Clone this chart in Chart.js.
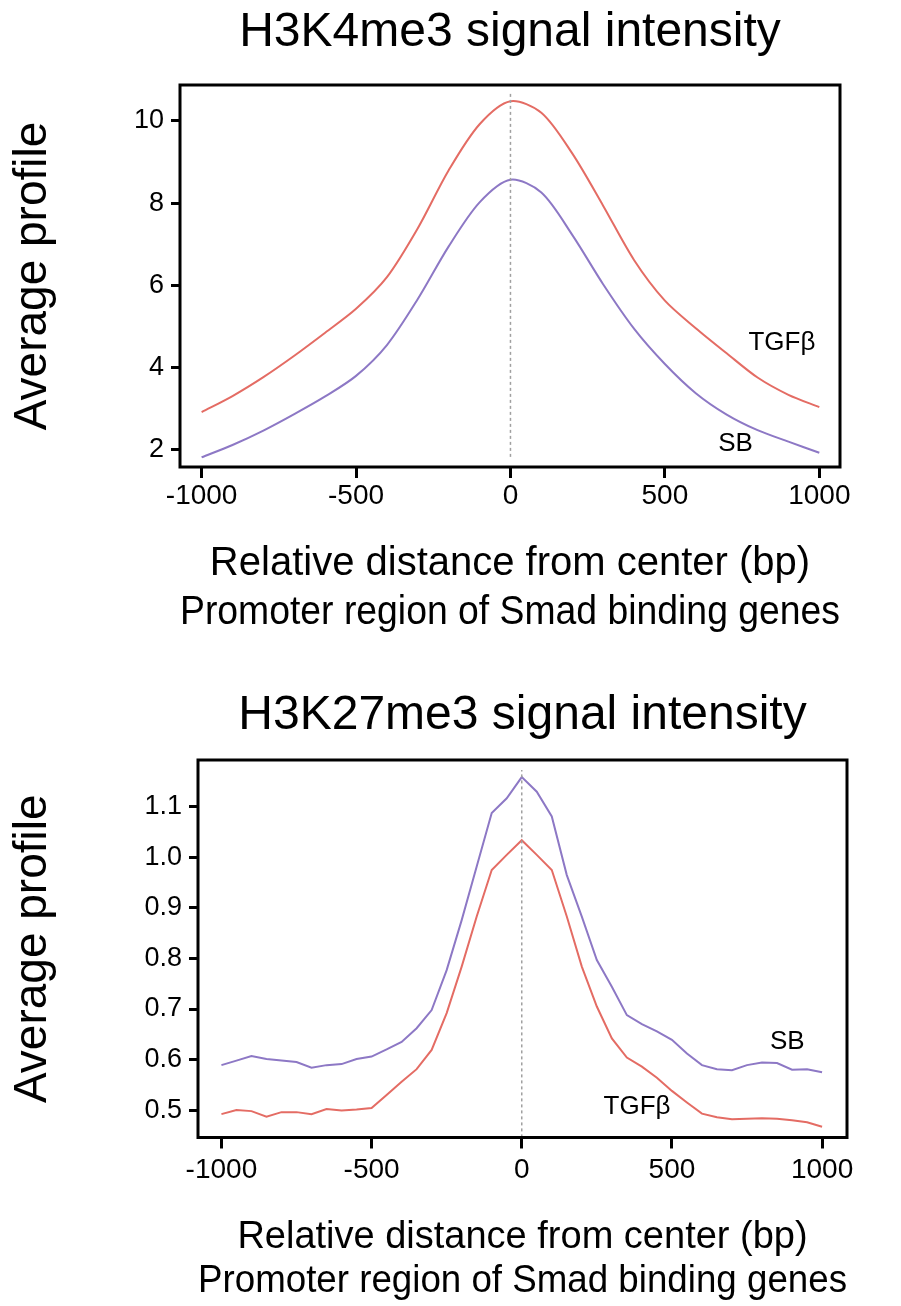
<!DOCTYPE html>
<html>
<head>
<meta charset="utf-8">
<script src="https://cdn.jsdelivr.net/npm/chart.js@4.4.0/dist/chart.umd.min.js"></script>
<style>
    html, body { margin: 0; padding: 0; background: #fff; overflow: hidden; width: 901px; height: 1306px; }
    .panel { position: absolute; left: 0; }
</style>
</head>
<body>
<div class="panel" style="top:0px"><canvas id="k4-canvas" width="901" height="650"></canvas></div>
<div class="panel" style="top:650px"><canvas id="k27-canvas" width="901" height="656"></canvas></div>
<script>
// H3K4me3 profile, 100 bp bins
const k4_positions = [-1000, -900, -800, -700, -600, -500, -400, -300, -200, -100, 0,
                      100, 200, 300, 400, 500, 600, 700, 800, 900, 1000];
const k4_tgfb = [2.92, 3.31, 3.77, 4.29, 4.85, 5.43, 6.20, 7.39, 8.80, 9.92, 10.48,
                 10.20, 9.21, 7.94, 6.62, 5.63, 4.96, 4.35, 3.76, 3.34, 3.04];
const k4_sb = [1.82, 2.12, 2.47, 2.87, 3.30, 3.80, 4.55, 5.67, 6.95, 8.02, 8.57,
               8.26, 7.23, 6.03, 4.95, 4.09, 3.38, 2.86, 2.48, 2.20, 1.93];
const k4_center_line = [1.83, 10.68];
const k4_y_ticks = [2, 4, 6, 8, 10];

// H3K27me3 profile, 50 bp bins
const k27_positions = [-1000, -950, -900, -850, -800, -750, -700, -650, -600, -550,
                       -500, -450, -400, -350, -300, -250, -200, -150, -100, -50, 0,
                       50, 100, 150, 200, 250, 300, 350, 400, 450, 500,
                       550, 600, 650, 700, 750, 800, 850, 900, 950, 1000];
const k27_tgfb = [0.492, 0.500, 0.498, 0.487, 0.496, 0.496, 0.492, 0.502, 0.499, 0.501,
                  0.504, 0.530, 0.556, 0.581, 0.619, 0.692, 0.784, 0.883, 0.975, 1.005, 1.034,
                  1.005, 0.975, 0.883, 0.784, 0.705, 0.642, 0.604, 0.586, 0.564, 0.538,
                  0.515, 0.493, 0.486, 0.482, 0.483, 0.484, 0.483, 0.480, 0.476, 0.467];
const k27_sb = [0.589, 0.598, 0.607, 0.601, 0.598, 0.595, 0.584, 0.589, 0.591, 0.601,
                0.606, 0.620, 0.635, 0.662, 0.698, 0.777, 0.876, 0.982, 1.088, 1.117, 1.159,
                1.130, 1.081, 0.965, 0.883, 0.797, 0.744, 0.688, 0.670, 0.656, 0.639,
                0.612, 0.589, 0.581, 0.579, 0.589, 0.594, 0.593, 0.580, 0.581, 0.575];
const k27_center_line = [0.446, 1.173];
const k27_y_ticks = [0.5, 0.6, 0.7, 0.8, 0.9, 1.0, 1.1];

const x_ticks = [-1000, -500, 0, 500, 1000];
const x_title = ['Relative distance from center (bp)', 'Promoter region of Smad binding genes'];
const y_title = 'Average profile';

const TGFB_COLOR = 'rgb(228, 108, 100)';
const SB_COLOR = 'rgb(141, 120, 197)';
const FONT = "'Liberation Sans', Arial, sans-serif";

Chart.defaults.font.family = FONT;
Chart.defaults.color = '#000';

function to_points(xs, ys) {
    return xs.map((x, i) => ({ x: x, y: ys[i] }));
}

// black box round the plot area
const frame_plugin = {
    id: 'frame',
    afterDraw(chart) {
        const { ctx, chartArea } = chart;
        ctx.save();
        ctx.strokeStyle = '#000';
        ctx.lineWidth = 3;
        ctx.strokeRect(chartArea.left, chartArea.top,
                       chartArea.right - chartArea.left, chartArea.bottom - chartArea.top);
        ctx.restore();
    }
};

// series names written next to the curves
const notes_plugin = {
    id: 'notes',
    afterDatasetsDraw(chart, args, opts) {
        const ctx = chart.ctx;
        ctx.save();
        ctx.font = '26px ' + FONT;
        ctx.fillStyle = '#000';
        ctx.textAlign = 'center';
        ctx.textBaseline = 'middle';
        for (const note of opts.items) {
            ctx.fillText(note.text,
                         chart.scales.x.getPixelForValue(note.x),
                         chart.scales.y.getPixelForValue(note.y));
        }
        ctx.restore();
    }
};

function make_panel(canvas_id, p) {
    const ctx = document.getElementById(canvas_id).getContext('2d');
    return new Chart(ctx, {
        type: 'line',
        data: {
            datasets: [
                {
                    data: to_points([0, 0], p.center_line),
                    borderColor: '#a0a0a0',
                    borderWidth: 1.5,
                    borderDash: [3, 3],
                    tension: 0
                },
                {
                    label: 'TGFβ',
                    data: to_points(p.positions, p.tgfb),
                    borderColor: TGFB_COLOR,
                    borderWidth: 2,
                    tension: p.tension
                },
                {
                    label: 'SB',
                    data: to_points(p.positions, p.sb),
                    borderColor: SB_COLOR,
                    borderWidth: 2,
                    tension: p.tension
                }
            ]
        },
        options: {
            responsive: false,
            animation: false,
            layout: { padding: { left: 0, right: p.pad_right, top: 0, bottom: 0 } },
            elements: { point: { radius: 0 } },
            plugins: {
                legend: { display: false },
                tooltip: { enabled: false },
                title: {
                    display: true,
                    fullSize: false,
                    text: p.title,
                    font: { size: 48, weight: 'normal', lineHeight: 1 },
                    padding: { top: p.title_top, bottom: p.title_bottom }
                },
                notes: { items: p.notes }
            },
            scales: {
                x: {
                    type: 'linear',
                    min: p.x_min,
                    max: p.x_max,
                    afterBuildTicks: (s) => { s.ticks = x_ticks.map(v => ({ value: v })); },
                    afterFit: (s) => { s.height = p.x_height; },
                    border: { display: false },
                    grid: { drawOnChartArea: false, color: '#000', lineWidth: 3, tickLength: 11 },
                    ticks: {
                        font: { size: 28 },
                        padding: p.x_tick_pad,
                        maxRotation: 0,
                        autoSkip: false,
                        callback: (v) => String(v)
                    },
                    title: {
                        display: true,
                        text: x_title,
                        font: { size: p.x_title_size, lineHeight: p.x_title_lh },
                        padding: { top: 0, bottom: p.x_title_pad }
                    }
                },
                y: {
                    min: p.y_min,
                    max: p.y_max,
                    afterBuildTicks: (s) => { s.ticks = p.y_ticks.map(v => ({ value: v })); },
                    afterFit: (s) => { s.width = p.y_width; },
                    border: { display: false },
                    grid: { drawOnChartArea: false, color: '#000', lineWidth: 3, tickLength: 9 },
                    ticks: { font: { size: 27 }, padding: 7, autoSkip: false, callback: p.y_format },
                    title: {
                        display: true,
                        text: y_title,
                        font: { size: 46, lineHeight: 1 },
                        padding: { top: 10, bottom: 0 }
                    }
                }
            }
        },
        plugins: [frame_plugin, notes_plugin]
    });
}

make_panel('k4-canvas', {
    title: 'H3K4me3 signal intensity',
    positions: k4_positions,
    tgfb: k4_tgfb,
    sb: k4_sb,
    center_line: k4_center_line,
    y_ticks: k4_y_ticks,
    y_format: (v) => String(v),
    tension: 0.3,
    x_min: -1070, x_max: 1067,
    y_min: 1.584, y_max: 10.874,
    pad_right: 61,
    title_top: 9, title_bottom: 28,
    x_height: 183, x_tick_pad: 1,
    x_title_size: 40, x_title_lh: 1.24, x_title_pad: 12,
    y_width: 180,
    notes: [{ text: 'TGFβ', x: 879, y: 4.6 }, { text: 'SB', x: 729, y: 2.14 }]
});

make_panel('k27-canvas', {
    title: 'H3K27me3 signal intensity',
    positions: k27_positions,
    tgfb: k27_tgfb,
    sb: k27_sb,
    center_line: k27_center_line,
    y_ticks: k27_y_ticks,
    y_format: (v) => v.toFixed(1),
    tension: 0,
    x_min: -1078, x_max: 1083,
    y_min: 0.4458, y_max: 1.1928,
    pad_right: 54,
    title_top: 42, title_bottom: 20,
    x_height: 168.5, x_tick_pad: 5,
    x_title_size: 38, x_title_lh: 1.16, x_title_pad: 2,
    y_width: 198,
    notes: [{ text: 'SB', x: 884, y: 0.635 }, { text: 'TGFβ', x: 384, y: 0.506 }]
});
</script>
</body>
</html>
